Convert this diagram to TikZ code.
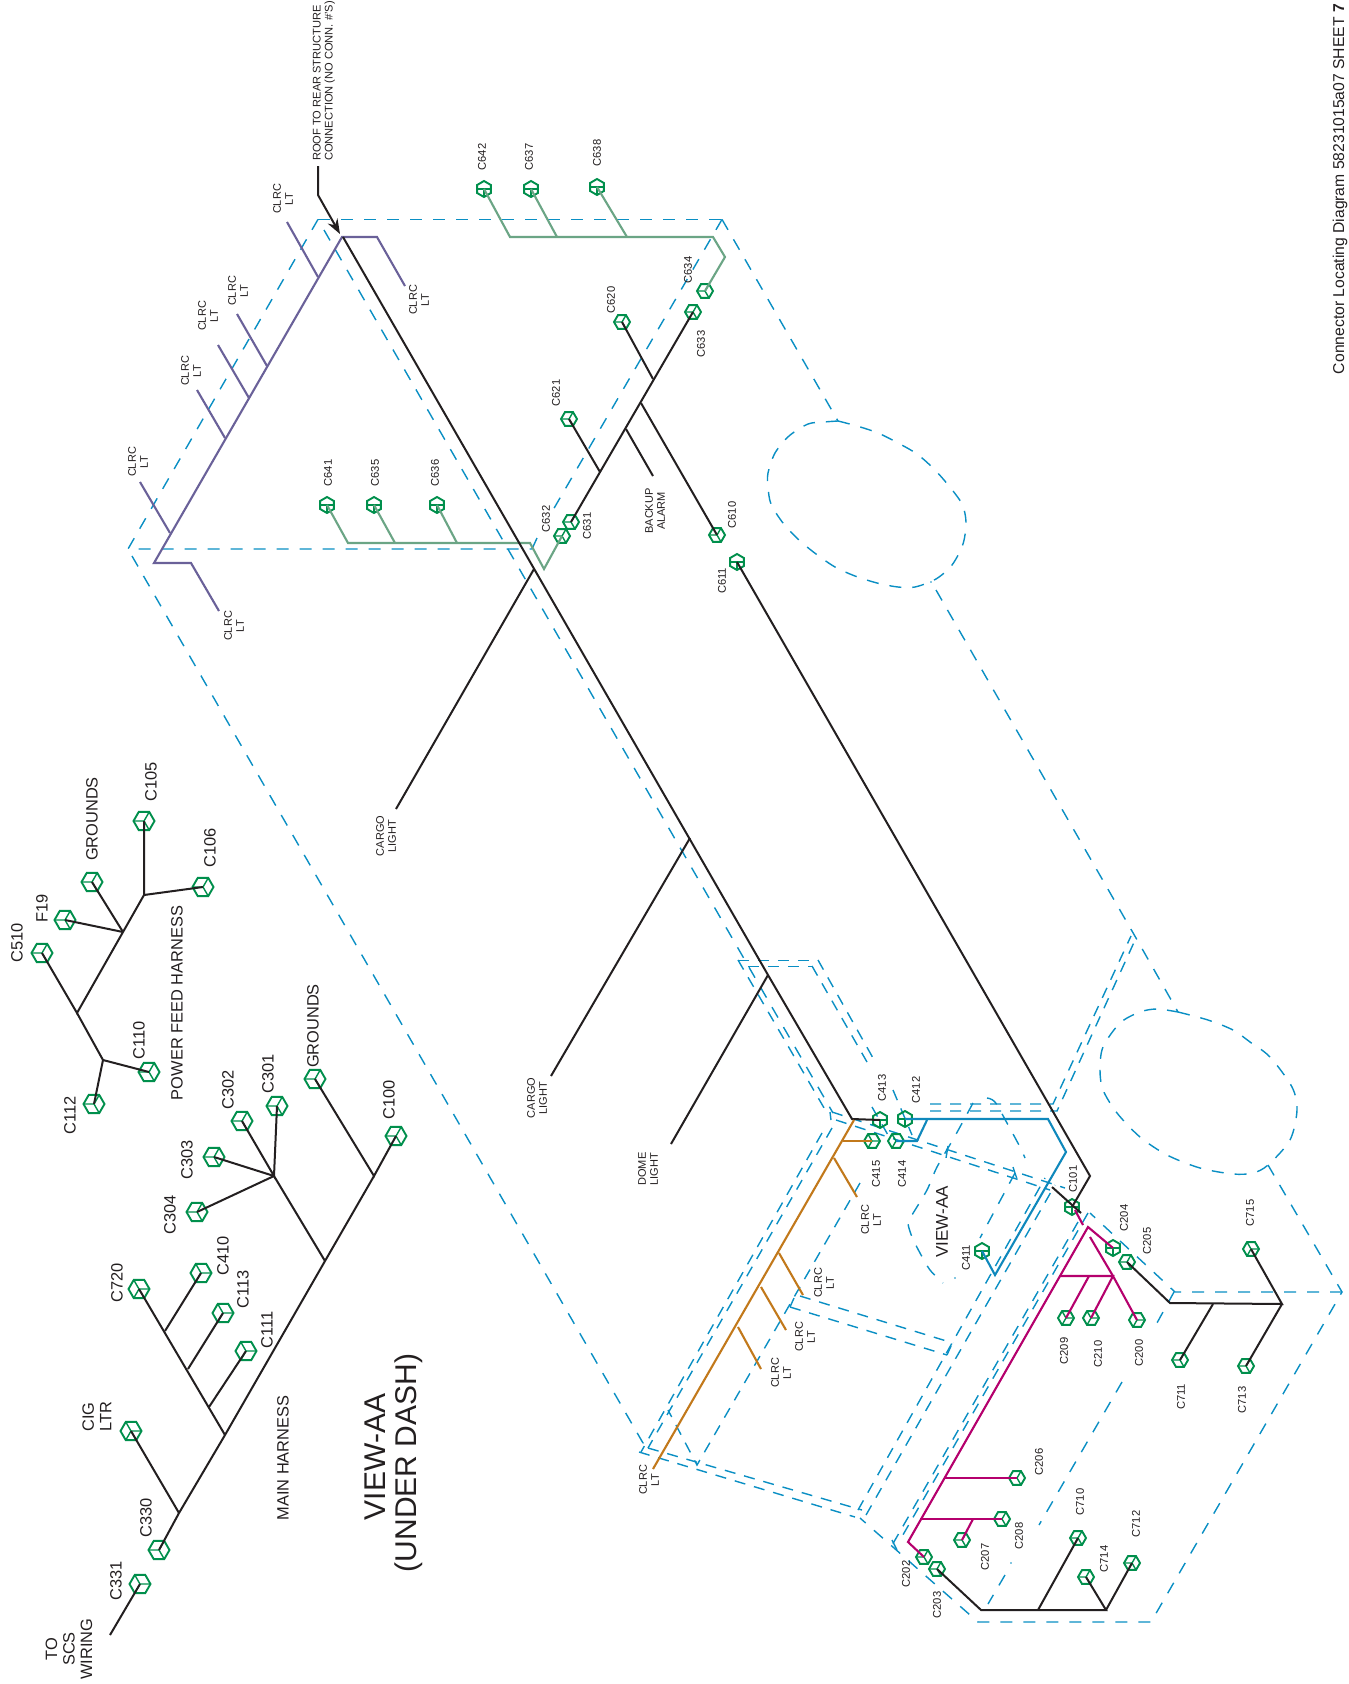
\documentclass[tikz,border=0pt]{standalone}
\usepackage{fontspec}
\setmainfont{Liberation Sans}
\usetikzlibrary{shapes.geometric,arrows.meta}
\definecolor{cgreen}{HTML}{008F4C}
\definecolor{cdash}{HTML}{0A8FC4}
\definecolor{cpurple}{HTML}{6A6199}
\definecolor{cteal}{HTML}{6BA585}
\definecolor{corange}{HTML}{C2791B}
\definecolor{cmag}{HTML}{B5006D}
\definecolor{cblue}{HTML}{0F88BC}
\definecolor{ink}{HTML}{231F20}
\tikzset{
 x=1pt,y=-1pt,
 hexbase/.style={regular polygon,regular polygon sides=6,draw=cgreen,inner sep=0pt,outer sep=0pt},
 fork/.style n args={3}{path picture={\draw[cgreen,line width=1.4pt]
   (path picture bounding box.center)--+(#1:15pt)
   (path picture bounding box.center)--+(#2:15pt)
   (path picture bounding box.center)--+(#3:15pt);}},
 bigconn/.style={hexbase,minimum size=21pt,line width=1.9pt,fork={60}{180}{300}},
 bigconnb/.style={hexbase,minimum size=21pt,line width=1.9pt,fork={0}{120}{240}},
 smconn/.style={hexbase,minimum size=16pt,line width=1.9pt,fork={60}{180}{300}},
 smconnb/.style={hexbase,minimum size=16pt,line width=1.9pt,fork={0}{120}{240}},
 smconnt/.style={hexbase,minimum size=16pt,line width=1.9pt,shape border rotate=30,fork={0}{180}{270}},
 biglab/.style={rotate=90,text=ink,inner sep=0pt,align=center,font=\fontsize{16.4}{17.5}\selectfont},
 smlab/.style={rotate=90,text=ink,inner sep=0pt,align=center,font=\fontsize{11.2}{12}\selectfont},
 huge lab/.style={rotate=90,text=ink,inner sep=0pt,font=\fontsize{30}{32}\selectfont},
 midlab/.style={rotate=90,text=ink,inner sep=0pt,align=center,font=\fontsize{11}{12}\selectfont},
 wire/.style={draw=ink,line width=2pt,line join=miter},
 wirep/.style={draw=cpurple,line width=2.1pt},
 wiret/.style={draw=cteal,line width=2.1pt},
 wireo/.style={draw=corange,line width=2.1pt},
 wirem/.style={draw=cmag,line width=2.1pt},
 wireb/.style={draw=cblue,line width=2.1pt},
 dsh/.style={draw=cdash,line width=1.4pt,dash pattern=on 12pt off 11pt},
 dshr/.style={draw=cdash,line width=1.4pt,dash pattern=on 11pt off 9pt},
}
\begin{document}
\begin{tikzpicture}
\useasboundingbox (0,0) rectangle (1349,1684);
\fill[white] (0,0) rectangle (1349,1684);
% --- dashed vehicle outline ---
\draw[dsh] (318,219.4)--(722,219.4);
\draw[dsh] (318,219.4)--(128,549)--(532,549);
\draw[dsh] (132,556)--(643,1443)--(639,1453);
\draw[dsh] (722,219.4)--(553,510);
\draw[dsh] (537,538)--(532,549);
\draw[dsh] (324,230)--(833,1113);
\draw[dsh] (722,219.4)--(838,421);
\draw[dsh] plot[smooth] coordinates {(838,421)(857,426)(878,433)(898,443)(917,454)(934,469)(949,486)(962,504)(966,522)(963,544)(952,565)(936,579)(915,587)(898,587)(877,583)(855,576)(835,567)(816,554)(799,540)(783,523)(771,504)(768,487)(768,473)(775,453)(789,436)(808,424)(824,422)(838,421)};
\draw[dsh] (936,590)--(1136,938)--(1178,1012);
\draw[dsh] plot[smooth] coordinates {(1178,1012)(1208,1020)(1233,1030)(1250,1042)(1270,1057)(1292,1087)(1297,1110)(1290,1140)(1268,1165)(1253,1173)(1233,1174)(1200,1168)(1167,1155)(1140,1137)(1117,1113)(1103,1090)(1100,1070)(1103,1047)(1120,1023)(1140,1012)(1157,1009)(1178,1012)};
\draw[dsh] (1268,1165)--(1342,1292)--(1151,1622)--(978,1622)--(860,1518);
\draw[dsh] (1342,1292)--(1175,1292)--(1090,1213);
\draw[dsh] (1174,1292)--(1152,1332);
\draw[dsh] (1122,1382)--(1039,1525);
\draw[dsh] (1005,1575)--(988,1604);
\fill[cdash] (1011,1563) circle (0.9);
\fill[cdash] (955,1278) circle (0.9);
\fill[cdash] (931,582) circle (0.9);
\draw[dshr] (1088,1213)--(900,1540);
\draw[dshr] (1078,1222)--(891,1547);
\draw[dshr] (892,1540)--(898,1552);
\draw[dshr] (738,960.4)--(818,960.4);
\draw[dshr] (748,966.4)--(812,966.4);
\draw[dshr] (818,960)--(873,1058);
\draw[dshr] (812,966)--(867,1062);
\draw[dshr] (738,960)--(827,1113);
\draw[dshr] (893,1090)--(912,1135);
\draw[dshr] (872,1107)--(888,1135);
\draw[dshr] (832,1112)--(1065,1188);
\draw[dshr] (836,1120)--(1050,1190);
\draw[dsh] (830,1112)--(831,1120);
\draw[dshr] (832,1128)--(648,1448);
\draw[dshr] (822,1133)--(641,1452);
\draw[dshr] (930,1104)--(1053,1104)--(1131,936);
\draw[dshr] (930,1111)--(1057,1111)--(1136,938);
\draw[dshr] (860,1183)--(697,1465)--(668,1410);
\draw[dshr] (790,1307)--(947,1355);
\draw[dshr] (800,1296)--(953,1343);
\draw[dsh] (790,1307)--(794,1298);
\draw[dsh] (947,1355)--(951,1346);
\draw[dshr] (858,1510)--(1045,1178);
\draw[dshr] (866,1515)--(1055,1185);
\draw[dshr] (639,1452)--(855,1517);
\draw[dshr] (648,1448)--(862,1510);
\draw[dsh] plot[smooth] coordinates {(973,1103)(955,1136)(937,1167)(927,1190)(912,1215)(908,1223)(912,1237)(920,1253)(930,1270)(943,1283)};
\draw[dsh] plot[smooth] coordinates {(987,1098)(995,1102)(1007,1123)(1020,1147)(1025,1158)};
\draw[dsh] (1015,1173)--(980,1238);
\draw[dsh] (948,1146)--(946,1158);
\draw[dsh] (1013,1167)--(1017,1179);
% --- connectors: left view AA ---
\node[bigconn] (c105) at (144,821) {};
\node[bigconn] (c106) at (203,887) {};
\node[bigconn] (gnda) at (92,882) {};
\node[bigconn] (f19) at (65,920) {};
\node[bigconn] (c510) at (42,953) {};
\node[bigconn] (c110) at (149,1072) {};
\node[bigconn] (c112) at (94,1104) {};
\node[bigconn] (c301) at (277,1106) {};
\node[bigconn] (c302) at (242,1121) {};
\node[bigconn] (c303) at (214,1157) {};
\node[bigconn] (gndb) at (315,1079) {};
\node[bigconn] (c100) at (396,1136) {};
\node[bigconn] (c304) at (197,1212) {};
\node[bigconnb] (c410) at (201,1273) {};
\node[bigconnb] (c113) at (223,1313) {};
\node[bigconnb] (c111) at (246,1351) {};
\node[bigconnb] (c720) at (139,1289) {};
\node[bigconnb] (cig) at (131,1431) {};
\node[bigconn] (c330) at (159,1550) {};
\node[bigconnb] (c331) at (140,1584) {};
% junctions, left
\coordinate (pa) at (144,895); \coordinate (pb) at (123,932);
\coordinate (pc) at (77,1013); \coordinate (pd) at (103,1060);
\coordinate (ma) at (274,1176); \coordinate (mb) at (374,1176);
\coordinate (mc) at (325,1261); \coordinate (md) at (225,1435);
\coordinate (me) at (179,1513); \coordinate (mf) at (165,1331);
\coordinate (mg) at (188,1369); \coordinate (mh) at (209,1407);
\coordinate (toscs) at (110,1635);
\draw[wire] (c105.center)--(pa)--(c106.center);
\draw[wire] (pa)--(pb)--(pc)--(c510.center);
\draw[wire] (pb)--(f19.center);
\draw[wire] (pb)--(gnda.center);
\draw[wire] (pc)--(pd)--(c110.center);
\draw[wire] (pd)--(c112.center);
\draw[wire] (c301.center)--(ma)--(c302.center);
\draw[wire] (ma)--(c303.center);
\draw[wire] (ma)--(c304.center);
\draw[wire] (ma)--(mc);
\draw[wire] (gndb.center)--(mb)--(c100.center);
\draw[wire] (mb)--(mc)--(md)--(me)--(c330.center);
\draw[wire] (c720.center)--(md);
\draw[wire] (mf)--(c410.center);
\draw[wire] (mg)--(c113.center);
\draw[wire] (mh)--(c111.center);
\draw[wire] (me)--(cig.center);
\draw[wire] (c331.center)--(toscs);
% labels left
\node[biglab] (lc105) at (151,782) {C105};
\node[biglab] (lgnda) at (92,819) {GROUNDS};
\node[biglab] (lf19) at (42,908) {F19};
\node[biglab] (lc510) at (17,943) {C510};
\node[biglab] (lc106) at (210,848) {C106};
\node[biglab] (lc110) at (139,1040) {C110};
\node[biglab] (lc112) at (70,1115) {C112};
\node[biglab] (lpf) at (177,1003) {POWER FEED HARNESS};
\node[biglab] (lc301) at (268,1074) {C301};
\node[biglab] (lc302) at (228,1090) {C302};
\node[biglab] (lc303) at (187,1160) {C303};
\node[biglab] (lgndb) at (313,1026) {GROUNDS};
\node[biglab] (lc100) at (389,1100) {C100};
\node[biglab] (lc304) at (170,1215) {C304};
\node[biglab] (lc410) at (223,1256) {C410};
\node[biglab] (lc113) at (243,1289) {C113};
\node[biglab] (lc111) at (267,1330) {C111};
\node[biglab] (lc720) at (117,1283) {C720};
\node[biglab] (lcig) at (97,1417) {CIG\\LTR};
\node[biglab] (lc330) at (146,1518) {C330};
\node[biglab] (lc331) at (116,1581) {C331};
\node[biglab] (lscs) at (69,1649) {TO\\SCS\\WIRING};
\node[biglab] (lmain) at (283,1458) {MAIN HARNESS};
\node[huge lab] (lview) at (375,1457) {VIEW-AA};
\node[huge lab] (lunder) at (409,1463) {(UNDER DASH)};
% --- connectors: main view ---
\node[smconnt] (c642) at (484,189) {};
\node[smconnt] (c637) at (531,189) {};
\node[smconnt] (c638) at (597,187) {};
\node[smconnt] (c641) at (327,505) {};
\node[smconnt] (c635) at (374,505) {};
\node[smconnt] (c636) at (437,505) {};
\node[smconn] (c634) at (705,291) {};
\node[smconn] (c633) at (693,312) {};
\node[smconn] (c620) at (622,322) {};
\node[smconn] (c621) at (569,419) {};
\node[smconn] (c631) at (571,522) {};
\node[smconn] (c632) at (562,536) {};
\node[smconn] (c610) at (717,535) {};
\node[smconnt] (c611) at (737,562) {};
\node[smconnt] (c413) at (880,1120) {};
\node[smconnt] (c412) at (905,1119) {};
\node[smconnb] (c415) at (872,1141) {};
\node[smconnb] (c414) at (896,1141) {};
\node[smconnt] (c411) at (982,1251) {};
\node[smconnt] (c101) at (1072,1207) {};
\node[smconnt] (c204) at (1113,1248) {};
\node[smconn] (c205) at (1127,1262) {};
\node[smconnb] (c209) at (1066,1318) {};
\node[smconnb] (c210) at (1091,1318) {};
\node[smconnb] (c200) at (1137,1320) {};
\node[smconnb] (c715) at (1251,1249) {};
\node[smconn] (c711) at (1180,1360) {};
\node[smconn] (c713) at (1246,1366) {};
\node[smconn] (c206) at (1017,1478) {};
\node[smconn] (c208) at (1002,1519) {};
\node[smconn] (c207) at (962,1540) {};
\node[smconn] (c710) at (1078,1538) {};
\node[smconn] (c714) at (1086,1577) {};
\node[smconn] (c712) at (1132,1563) {};
\node[smconn] (c202) at (924,1557) {};
\node[smconn] (c203) at (937,1569) {};
% junctions, main
\coordinate (roofa) at (318,166); \coordinate (roofb) at (318,195);
\coordinate (top) at (343,237); \coordinate (tip) at (340,234);
\coordinate (cgj) at (534,569); \coordinate (cge) at (396,809);
\coordinate (cmj) at (690,838); \coordinate (cme) at (551,1076);
\coordinate (dlj) at (768,975); \coordinate (dle) at (671,1144);
\coordinate (mend) at (852,1119);
\coordinate (b611) at (1090,1176);
\coordinate (s1) at (1052,1187); \coordinate (s2) at (1081,1213);
% purple
\coordinate (pu1) at (342,237); \coordinate (pu2) at (154,563);
\coordinate (pu3) at (191,563); \coordinate (pu4) at (219,611);
\coordinate (pu5) at (377,237); \coordinate (pu6) at (405,286);
\draw[wirep] (pu6)--(pu5)--(pu1)--(pu2)--(pu3)--(pu4);
\coordinate (pv1) at (318,277); \coordinate (pw1) at (287,222);
\coordinate (pv2) at (267,366); \coordinate (pw2) at (237,314);
\coordinate (pv3) at (249,398); \coordinate (pw3) at (218,345);
\coordinate (pv4) at (225,438); \coordinate (pw4) at (197,390);
\coordinate (pv5) at (170,533); \coordinate (pw5) at (140,482);
\draw[wirep] (pv1)--(pw1) (pv2)--(pw2) (pv3)--(pw3) (pv4)--(pw4) (pv5)--(pw5);
% teal
\coordinate (t1) at (510,237); \coordinate (t2) at (713,237); \coordinate (t3) at (725,257);
\coordinate (t4) at (557,237); \coordinate (t5) at (627,237);
\draw[wiret] (c642.center)--(t1)--(t2)--(t3)--(c634.center);
\draw[wiret] (c637.center)--(t4);
\draw[wiret] (c638.center)--(t5);
\coordinate (t6) at (348,543); \coordinate (t7) at (530,543); \coordinate (t8) at (544,569);
\coordinate (t9) at (395,543); \coordinate (t10) at (457,543);
\draw[wiret] (c641.center)--(t6)--(t7)--(t8)--(c632.center);
\draw[wiret] (c635.center)--(t9);
\draw[wiret] (c636.center)--(t10);
% black main
\draw[wire] (top)--(dlj)--(mend)--(c413.center);
\draw[wire,-{Stealth[length=15pt,width=11pt,inset=5pt]}] (roofa)--(roofb)--(tip);
\draw[wire] (cgj)--(cge);
\draw[wire] (cmj)--(cme);
\draw[wire] (dlj)--(dle);
\draw[wire] (c611.center)--(b611)--(c101.center);
\draw[wire] (s1)--(s2);
\coordinate (k1) at (653,379); \coordinate (k2) at (641,403);
\coordinate (k3) at (626,429); \coordinate (k4) at (600,472); \coordinate (k5) at (653,476);
\draw[wire] (c633.center)--(c631.center);
\draw[wire] (c620.center)--(k1);
\draw[wire] (k2)--(c610.center);
\draw[wire] (k3)--(k5);
\draw[wire] (c621.center)--(k4);
% orange
\coordinate (o1) at (854,1120); \coordinate (o2) at (653,1469);
\coordinate (o3) at (843,1141);
\coordinate (o4) at (834,1158); \coordinate (o5) at (857,1197);
\coordinate (o6) at (779,1253); \coordinate (o7) at (803,1295);
\coordinate (o8) at (761,1287); \coordinate (o9) at (786,1330);
\coordinate (o10) at (738,1327); \coordinate (o11) at (761,1369);
\draw[wireo] (o1)--(o2);
\draw[wireo] (o3)--(c415.center);
\draw[wireo] (o4)--(o5) (o6)--(o7) (o8)--(o9) (o10)--(o11);
% blue
\coordinate (b1) at (1048,1119); \coordinate (b2) at (1066,1152); \coordinate (b3) at (995,1275);
\coordinate (b4) at (927,1120); \coordinate (b5) at (917,1141);
\draw[wireb] (c412.center)--(b1)--(b2)--(b3)--(c411.center);
\draw[wireb] (b4)--(b5)--(c414.center);
% magenta
\coordinate (g1) at (1088,1227); \coordinate (g2) at (908,1542);
\coordinate (g3) at (1060,1276); \coordinate (g4) at (1113,1276);
\coordinate (g5) at (1089,1276); \coordinate (g6) at (1090,1237);
\coordinate (g7) at (1083,1225); \coordinate (g8) at (1075,1210);
\coordinate (g9) at (944,1478); \coordinate (g10) at (920,1519); \coordinate (g11) at (973,1519);
\draw[wirem] (c204.center)--(g1)--(g2)--(c202.center);
\draw[wirem] (g6)--(g4)--(c200.center);
\draw[wirem] (g3)--(g4)--(c210.center);
\draw[wirem] (g5)--(c209.center);
\draw[wirem] (g7)--(g8);
\draw[wirem] (g9)--(c206.center);
\draw[wirem] (g10)--(c208.center);
\draw[wirem] (g11)--(c207.center);
% black right
\coordinate (d1) at (981,1610); \coordinate (d2) at (1106,1610); \coordinate (d3) at (1038,1610);
\draw[wire] (c203.center)--(d1)--(d2)--(c714.center);
\draw[wire] (d2)--(c712.center);
\draw[wire] (d3)--(c710.center);
\coordinate (e1) at (1170,1303); \coordinate (e2) at (1282,1304); \coordinate (e3) at (1213,1304);
\draw[wire] (c205.center)--(e1)--(e2)--(c715.center);
\draw[wire] (e2)--(c713.center);
\draw[wire] (e3)--(c711.center);
% labels main
\node[midlab] (lroof) [anchor=west] at (324,161) {\parbox{185pt}{\raggedright\fontsize{11.1}{12}\selectfont ROOF TO REAR STRUCTURE\\CONNECTION (NO CONN. \#'S)}};
\node[midlab] (lcl1) at (283,199) {CLRC\\LT};
\node[midlab] (lcl2) at (238,291) {CLRC\\LT};
\node[midlab] (lcl3) at (208,316) {CLRC\\LT};
\node[midlab] (lcl4) at (191,371) {CLRC\\LT};
\node[midlab] (lcl5) at (138,462) {CLRC\\LT};
\node[midlab] (lcl6) at (234,626) {CLRC\\LT};
\node[midlab] (lcl7) at (419,300) {CLRC\\LT};
\node[midlab] (lcl8) at (871,1220) {CLRC\\LT};
\node[midlab] (lcl9) at (824,1283) {CLRC\\LT};
\node[midlab] (lcl10) at (805,1337) {CLRC\\LT};
\node[midlab] (lcl11) at (781,1373) {CLRC\\LT};
\node[midlab] (lcl12) at (649,1480) {CLRC\\LT};
\node[midlab] (lcg1) at (386,836) {CARGO\\LIGHT};
\node[midlab] (lcg2) at (537,1098) {CARGO\\LIGHT};
\node[midlab] (ldome) at (648,1169) {DOME\\LIGHT};
\node[midlab] (lback) at (655,511) {BACKUP\\ALARM};
\node[smlab] (tc642) at (482,157) {C642};
\node[smlab] (tc637) at (529,157) {C637};
\node[smlab] (tc638) at (597,153) {C638};
\node[smlab] (tc641) at (328,473) {C641};
\node[smlab] (tc635) at (375,473) {C635};
\node[smlab] (tc636) at (435,473) {C636};
\node[smlab] (tc634) at (688,270) {C634};
\node[smlab] (tc620) at (611,300) {C620};
\node[smlab] (tc633) at (701,344) {C633};
\node[smlab] (tc621) at (556,393) {C621};
\node[smlab] (tc632) at (546,519) {C632};
\node[smlab] (tc631) at (587,526) {C631};
\node[smlab] (tc610) at (732,515) {C610};
\node[smlab] (tc611) at (722,581) {C611};
\node[smlab] (tc413) at (882,1088) {C413};
\node[smlab] (tc412) at (916,1090) {C412};
\node[smlab] (tc415) at (876,1174) {C415};
\node[smlab] (tc414) at (902,1174) {C414};
\node[smlab] (tc101) at (1073,1179) {C101};
\node[smlab] (tc411) at (966,1258) {C411};
\node[rotate=90,text=ink,inner sep=0pt,font=\fontsize{17}{18}\selectfont] (tview) at (942,1222) {VIEW-AA};
\node[smlab] (tc204) at (1124,1218) {C204};
\node[smlab] (tc205) at (1147,1241) {C205};
\node[smlab] (tc715) at (1250,1213) {C715};
\node[smlab] (tc209) at (1064,1351) {C209};
\node[smlab] (tc210) at (1098,1354) {C210};
\node[smlab] (tc200) at (1139,1353) {C200};
\node[smlab] (tc711) at (1181,1397) {C711};
\node[smlab] (tc713) at (1242,1400) {C713};
\node[smlab] (tc206) at (1039,1462) {C206};
\node[smlab] (tc710) at (1080,1502) {C710};
\node[smlab] (tc712) at (1136,1524) {C712};
\node[smlab] (tc714) at (1104,1559) {C714};
\node[smlab] (tc207) at (985,1557) {C207};
\node[smlab] (tc208) at (1019,1536) {C208};
\node[smlab] (tc202) at (906,1574) {C202};
\node[smlab] (tc203) at (937,1605) {C203};
\node[rotate=90,text=ink,inner sep=0pt,font=\fontsize{15.7}{17}\selectfont] (title) at (1340,189) {Connector Locating Diagram 58231015a07 SHEET \textbf{7}};
\end{tikzpicture}
\end{document}
